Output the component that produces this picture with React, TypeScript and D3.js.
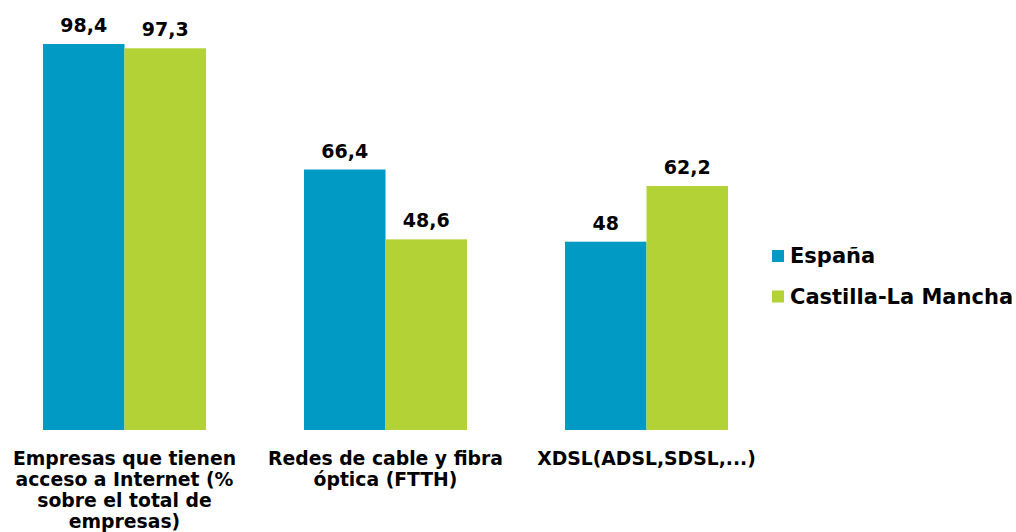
import React from "react";
import * as d3 from "d3";

const categories = [
  ["Empresas que tienen", "acceso a Internet (%", "sobre el total de", "empresas)"],
  ["Redes de cable y fibra", "óptica (FTTH)"],
  ["XDSL(ADSL,SDSL,...)"],
];
const categoryKeys = ["internet", "fibra", "xdsl"];
const seriesNames = ["España", "Castilla-La Mancha"];
const espana = [98.4, 66.4, 48];
const clm = [97.3, 48.6, 62.2];
const valueLabels = [
  ["98,4", "66,4", "48"],
  ["97,3", "48,6", "62,2"],
];
const colors = ["#009AC4", "#B2D235"];

const W = 1016;
const H = 532;
const FONT = "'DejaVu Sans', Verdana, sans-serif";

export default function App() {
  const x0 = d3
    .scaleBand<string>()
    .domain(categoryKeys)
    .range([-6, 777])
    .paddingInner(0.3755)
    .paddingOuter(0.1877);
  const x1 = d3.scaleBand<number>().domain([0, 1]).range([0, x0.bandwidth()]);
  const y = d3.scaleLinear().domain([0, 100]).range([430, 37.7]);
  const series = [espana, clm];

  return (
    <svg
      width={W}
      height={H}
      style={{ position: "absolute", left: 0, top: 0, background: "#fff" }}
      fontFamily={FONT}
      fontWeight="bold"
    >
      {series.map((vals, si) =>
        vals.map((v, ci) => {
          const bx = (x0(categoryKeys[ci]) as number) + (x1(si) as number);
          return (
            <g key={`${si}-${ci}`}>
              <rect x={bx} y={y(v)} width={x1.bandwidth()} height={y(0) - y(v)} fill={colors[si]} />
              <text
                x={bx + x1.bandwidth() / 2}
                y={y(v) - 12}
                textAnchor="middle"
                fontSize={19}
                fill="#000"
              >
                {valueLabels[si][ci]}
              </text>
            </g>
          );
        })
      )}
      {categories.map((lines, ci) => {
        const cx = (x0(categoryKeys[ci]) as number) + x0.bandwidth() / 2;
        return (
          <text key={ci} textAnchor="middle" fontSize={18.8} fill="#000">
            {lines.map((l, li) => (
              <tspan key={li} x={cx} y={464.5 + li * 21.1}>
                {l}
              </tspan>
            ))}
          </text>
        );
      })}
      {seriesNames.map((name, si) => (
        <g key={name} transform={`translate(772, ${250 + si * 40.5})`}>
          <rect x={0} y={0} width={12} height={12} fill={colors[si]} />
          <text x={18} y={13} fontSize={21} fill="#000">
            {name}
          </text>
        </g>
      ))}
    </svg>
  );
}
